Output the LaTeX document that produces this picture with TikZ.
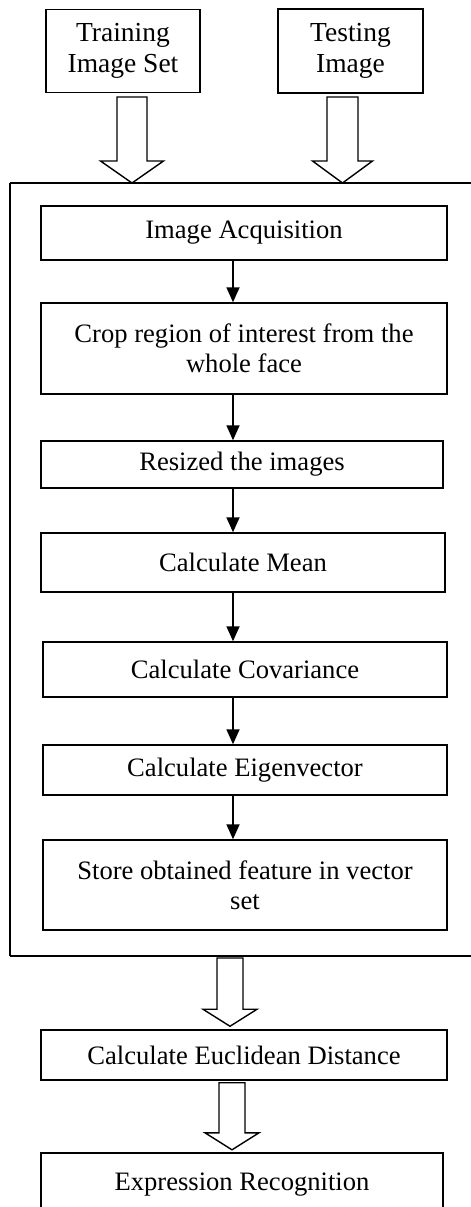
\documentclass[tikz,border=0pt]{standalone}
\usepackage{fontspec}
\setmainfont{Liberation Serif}
\usepackage{tikz}
\usetikzlibrary{arrows.meta, calc, positioning}

% hollow block arrow: start, tip, half shaft, half head, head length
\newcommand{\fatarrow}[5]{%
  \draw[line width=1.4pt, fill=white] let \p1=(#1), \p2=(#2) in
    (\x1-#3,\y1) -- (\x1+#3,\y1) -- (\x1+#3,\y2+#5) -- (\x1+#4,\y2+#5)
    -- (\x1,\y2) -- (\x1-#4,\y2+#5) -- (\x1-#3,\y2+#5) -- cycle;}

\begin{document}
\begin{tikzpicture}[
  x=1pt, y=-1pt,
  every node/.style={font=\fontsize{26.6}{30}\selectfont, align=center, inner sep=0pt},
  stepbox/.style={rectangle, draw, line width=1.5pt},
  flow/.style={-{Triangle[length=15pt,width=13pt]}, line width=1.8pt}
]
\path[use as bounding box] (0,0) rectangle (471,1207);

% Inputs
\node[stepbox, minimum width=154, minimum height=83, font=\fontsize{27.5}{31}\selectfont] (train) at (123,51) {Training\\Image Set};
\node[stepbox, minimum width=145, minimum height=84, font=\fontsize{27.5}{31}\selectfont] (test) at (350.5,51) {Testing\\Image};

% Feature extraction block (open on the right)
\coordinate (fnw) at (10,183);
\coordinate (fsw) at (10,956);
\coordinate (fe) at (471,0);
\draw[line width=1.5pt] (fnw -| fe) -- (fnw);
\draw[line width=1.5pt] (fnw) -- (fsw);
\draw[line width=1.5pt] (fsw) -- (fsw -| fe);
\node[stepbox, minimum width=406, minimum height=54] (acq) at (244,233) {Image Acquisition};
\node[stepbox, minimum width=406, minimum height=91] (crop) at (244,348.5) {Crop region of interest from the\\whole face};
\node[stepbox, minimum width=402, minimum height=47] (resize) at (242,464.5) {Resized the images};
\node[stepbox, minimum width=404, minimum height=59] (mean) at (243,562.5) {Calculate Mean};
\node[stepbox, minimum width=404, minimum height=55] (cov) at (245,669.5) {Calculate Covariance};
\node[stepbox, minimum width=404, minimum height=50] (eig) at (245,770) {Calculate Eigenvector};
\node[stepbox, minimum width=404, minimum height=90] (store) at (245,885) {Store obtained feature in vector\\set};

% Matching
\node[stepbox, minimum width=406, minimum height=50] (eucl) at (244,1055) {Calculate Euclidean Distance};
\node[minimum width=402, minimum height=64] (expr) at (242,1185) {Expression Recognition};
\draw[line width=1.5pt] (expr.south west) -- (expr.north west) -- (expr.north east) -- (expr.south east);

% Small arrows
\coordinate (ax) at (233,0);
\foreach \a/\b in {acq/crop, crop/resize, resize/mean, mean/cov, cov/eig, eig/store}
  \draw[flow] (\a.south -| ax) -- (\b.north -| ax);

% Block arrows
\coordinate (ta) at (132,97);
\coordinate (sa) at (342.5,97);
\coordinate (ea) at (230,0);
\coordinate (ra) at (232,0);
\fatarrow{ta}{fnw -| ta}{15}{31.5}{22}
\fatarrow{sa}{fnw -| sa}{15.5}{30}{22}
\fatarrow{$(fsw -| ea)+(0,2)$}{$(eucl.north -| ea)+(0,-3)$}{13}{27}{17}
\fatarrow{$(eucl.south -| ra)+(0,2)$}{$(expr.north -| ra)+(0,-3)$}{13}{27}{17}

\end{tikzpicture}
\end{document}
